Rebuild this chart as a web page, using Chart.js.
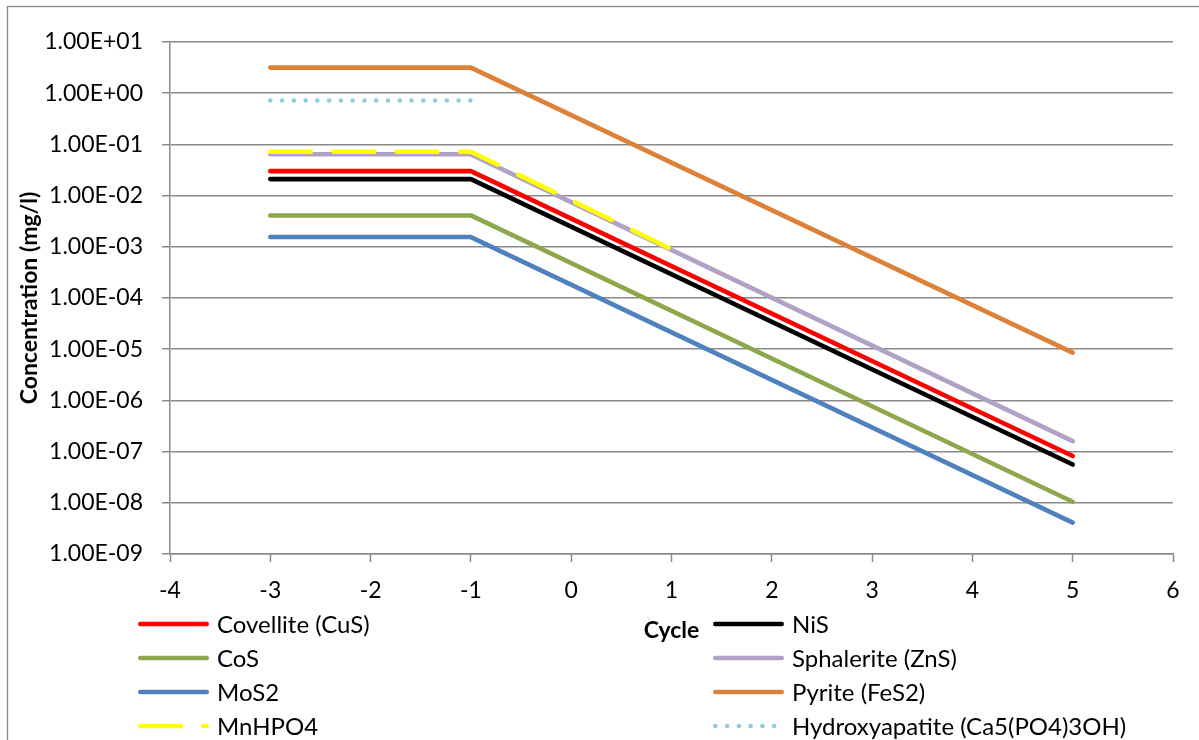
<!DOCTYPE html>
<html>
<head>
<meta charset="utf-8">
<title>Concentration per cycle</title>
<script src="https://cdn.jsdelivr.net/npm/chart.js@4.4.1/dist/chart.umd.min.js"></script>
<style>
  html, body { margin: 0; padding: 0; background: #ffffff; }
  #wrap { width: 1199px; height: 740px; position: relative; }
</style>
</head>
<body>
<div id="wrap"><canvas id="chart" width="1199" height="740"></canvas></div>
<script>
// Cycle positions of the plotted points
const cycles = [-3, -1, 5];
const mnhpo4Cycles = [-3, -1, 1];
const hydroxyCycles = [-3, -1];

// Concentrations in mg/l
const covellite = [0.030, 0.030, 8.2e-8];
const nis = [0.021, 0.021, 5.6e-8];
const cos = [0.0041, 0.0041, 1.05e-8];
const sphalerite = [0.064, 0.064, 1.6e-7];
const mos2 = [0.00155, 0.00155, 4.1e-9];
const pyrite = [3.16, 3.16, 8.6e-6];
const mnhpo4 = [0.072, 0.072, 9.0e-4];
const hydroxyapatite = [0.72, 0.72];

// Series names
const seriesNames = [
  'Covellite (CuS)', 'NiS', 'CoS', 'Sphalerite (ZnS)',
  'MoS2', 'Pyrite (FeS2)', 'MnHPO4', 'Hydroxyapatite (Ca5(PO4)3OH)'
];

// Axis ticks
const yTickValues = [1e-9, 1e-8, 1e-7, 1e-6, 1e-5, 1e-4, 1e-3, 1e-2, 1e-1, 1e0, 1e1];
const yTickLabels = ['1.00E-09', '1.00E-08', '1.00E-07', '1.00E-06', '1.00E-05',
                     '1.00E-04', '1.00E-03', '1.00E-02', '1.00E-01', '1.00E+00', '1.00E+01'];

const FONT = 'Lato';
const TICK_SIZE = 23;
const LEGEND_SIZE = 24;
const GRID = '#8a8a8a';

function pts(xs, ys) {
  return xs.map((x, i) => ({ x: x, y: ys[i] }));
}

const seriesData = [
  pts(cycles, covellite), pts(cycles, nis), pts(cycles, cos), pts(cycles, sphalerite),
  pts(cycles, mos2), pts(cycles, pyrite), pts(mnhpo4Cycles, mnhpo4), pts(hydroxyCycles, hydroxyapatite)
];
const seriesColors = ['#ff0000', '#000000', '#8da84c', '#b2a1c7', '#4f81bd', '#dc8139', '#ffff00', '#93cddd'];
const seriesDashes = [[], [], [], [], [], [], [40.5, 22.8], [0.01, 11.76]];

const datasets = seriesNames.map((name, i) => ({
  label: name,
  data: seriesData[i],
  borderColor: seriesColors[i],
  backgroundColor: seriesColors[i],
  borderWidth: 4.6,
  borderDash: seriesDashes[i],
  borderCapStyle: 'round',
  borderJoinStyle: 'round',
  pointRadius: 0,
  pointHoverRadius: 0,
  tension: 0,
  fill: false,
  order: -i
}));

// Outer frame around the whole chart
const framePlugin = {
  id: 'frame',
  beforeDraw(chart) {
    const ctx = chart.ctx;
    ctx.save();
    ctx.fillStyle = '#ffffff';
    ctx.fillRect(0, 0, chart.width, chart.height);
    ctx.strokeStyle = '#898989';
    ctx.lineWidth = 1.3;
    ctx.strokeRect(7.5, 6.5, chart.width + 20, chart.height + 20);
    ctx.restore();
  }
};

// Two-column legend under the plot
const legendPlugin = {
  id: 'twoColLegend',
  afterDraw(chart) {
    const ctx = chart.ctx;
    const rowY = [624, 658, 692, 726];
    const colX = [138, 713];
    const sampleLen = 71;
    ctx.save();
    chart.data.datasets.forEach((ds, i) => {
      const col = i % 2;
      const row = Math.floor(i / 2);
      const x0 = colX[col];
      const y = rowY[row];
      const half = ds.borderWidth / 2;
      ctx.beginPath();
      ctx.setLineDash(ds.borderDash || []);
      ctx.lineCap = 'round';
      ctx.lineWidth = ds.borderWidth;
      ctx.strokeStyle = ds.borderColor;
      ctx.moveTo(x0 + half, y);
      ctx.lineTo(x0 + sampleLen - half, y);
      ctx.stroke();
      ctx.setLineDash([]);
      ctx.fillStyle = '#000000';
      ctx.font = LEGEND_SIZE + 'px ' + FONT;
      ctx.textAlign = 'left';
      ctx.textBaseline = 'middle';
      ctx.fillText(ds.label, x0 + sampleLen + 8, y + 1);
    });
    ctx.restore();
  }
};

new Chart(document.getElementById('chart'), {
  type: 'line',
  data: { datasets: datasets },
  options: {
    responsive: false,
    animation: false,
    layout: { padding: { left: 0, top: 42, right: 26, bottom: 0 } },
    plugins: {
      legend: { display: false },
      tooltip: { enabled: false },
      title: { display: false }
    },
    scales: {
      x: {
        type: 'linear',
        position: 'bottom',
        min: -4,
        max: 6,
        ticks: {
          stepSize: 1,
          color: '#000000',
          padding: 15,
          font: { family: FONT, size: TICK_SIZE }
        },
        grid: {
          drawOnChartArea: false,
          drawTicks: true,
          tickLength: 8,
          tickColor: GRID,
          tickWidth: 1.5
        },
        border: { display: true, color: GRID, width: 1.5 },
        title: {
          display: true,
          text: 'Cycle',
          color: '#000000',
          font: { family: FONT, size: TICK_SIZE, weight: 'bold' },
          padding: { top: 0, bottom: 96 }
        },
        afterFit(scale) { scale.height = 186; }
      },
      y: {
        type: 'logarithmic',
        position: 'left',
        min: 1e-9,
        max: 1e1,
        afterBuildTicks(scale) {
          scale.ticks = yTickValues.map(v => ({ value: v, major: false }));
        },
        ticks: {
          color: '#000000',
          padding: 19,
          autoSkip: false,
          font: { family: FONT, size: TICK_SIZE },
          callback(value) {
            const idx = yTickValues.findIndex(v => Math.abs(Math.log10(v) - Math.log10(value)) < 1e-6);
            return idx >= 0 ? yTickLabels[idx] : '';
          }
        },
        grid: {
          color: GRID,
          lineWidth: 1.5,
          drawTicks: true,
          tickLength: 8,
          tickColor: GRID,
          tickWidth: 1.5
        },
        border: { display: true, color: GRID, width: 1.5 },
        title: {
          display: true,
          text: 'Concentration (mg/l)',
          color: '#000000',
          font: { family: FONT, size: TICK_SIZE, weight: 'bold' },
          padding: { top: 16, bottom: 0 }
        },
        afterFit(scale) { scale.width = 170; }
      }
    }
  },
  plugins: [framePlugin, legendPlugin]
});
</script>
</body>
</html>
